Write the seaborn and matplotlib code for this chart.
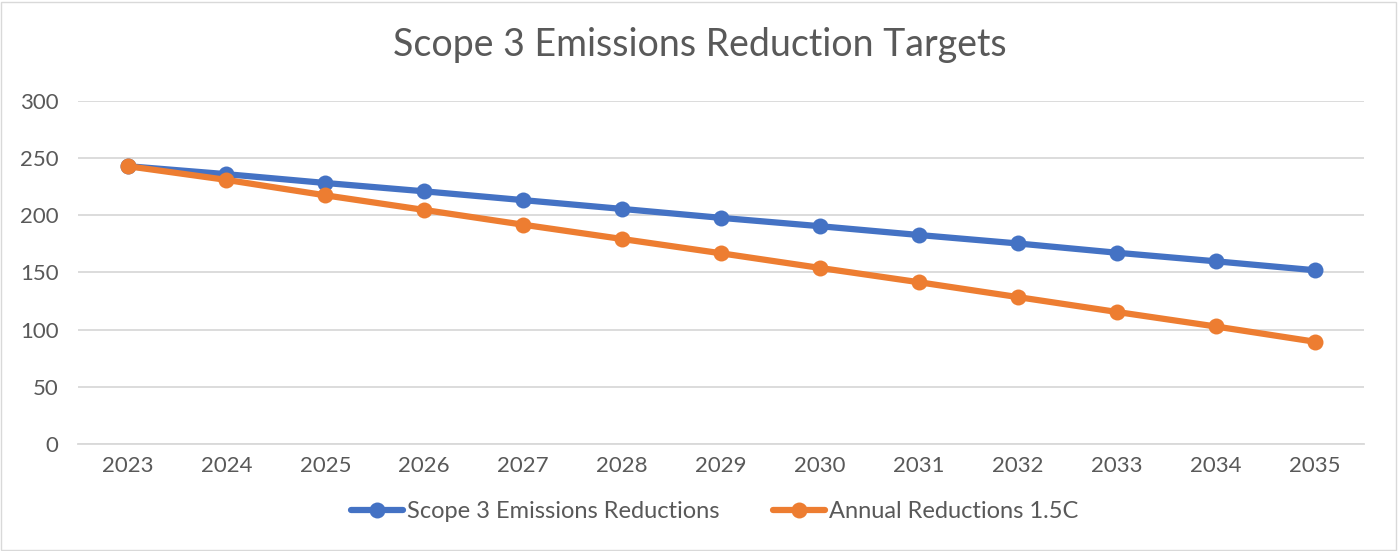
import numpy as np
import pandas as pd
import matplotlib.pyplot as plt
import seaborn as sns
from matplotlib.patches import Rectangle

years = [2023, 2024, 2025, 2026, 2027, 2028, 2029, 2030, 2031, 2032, 2033, 2034, 2035]
scope3 = [243, 236, 228.3, 221, 213.3, 205.6, 197.8, 190.5, 182.8, 175.4, 167.3, 159.8, 152]
annual_15c = [243, 231, 217.5, 204.7, 191.8, 179.3, 166.8, 154, 141.5, 128.5, 115.5, 102.8, 89.5]
series_names = ['Scope 3 Emissions Reductions', 'Annual Reductions 1.5C']

df = pd.DataFrame({
    'year': years * 2,
    'value': scope3 + annual_15c,
    'series': [series_names[0]] * len(years) + [series_names[1]] * len(years),
})

sns.set_style('white')
plt.rcParams['font.family'] = ['Lato', 'DejaVu Sans']
text_color = '#595959'

fig = plt.figure(figsize=(13.99, 5.51), dpi=100)
ax = fig.add_axes([0.0558, 0.1942, 0.9192, 0.6225])

sns.lineplot(data=df, x='year', y='value', hue='series',
             palette=['#4472C4', '#ED7D31'], marker='o', markersize=11.5,
             markeredgewidth=0, linewidth=4.5, ax=ax, legend=True)

ax.set_xlim(2022.5, 2035.5)
ax.set_ylim(0, 300)
ax.set_xticks(years)
ax.set_xticklabels([str(y) for y in years])
ax.set_yticks(np.arange(0, 301, 50))
ax.grid(axis='y', color='#d9d9d9', linewidth=1.3)
ax.set_axisbelow(True)
for s in ['top', 'right', 'left']:
    ax.spines[s].set_visible(False)
ax.spines['bottom'].set_color('#d9d9d9')
ax.spines['bottom'].set_linewidth(1.3)
ax.tick_params(axis='both', length=0, labelsize=16, labelcolor=text_color)
ax.tick_params(axis='y', pad=14)
ax.tick_params(axis='x', pad=9)
ax.set_xlabel('')
ax.set_ylabel('')

fig.text(0.5, 0.918, 'Scope 3 Emissions Reduction Targets', ha='center', va='center',
         fontsize=27, color=text_color)

leg = ax.legend(loc='center', bbox_to_anchor=(0.495, -0.198), ncol=2, frameon=False,
                fontsize=17, handlelength=2.2, handletextpad=0.15, columnspacing=2.3)
for t in leg.get_texts():
    t.set_color(text_color)

fig.patches.append(Rectangle((0.001, 0.002), 0.997, 0.995, transform=fig.transFigure,
                             fill=False, edgecolor='#d9d9d9', linewidth=1))

plt.savefig('out.png', dpi=100)
